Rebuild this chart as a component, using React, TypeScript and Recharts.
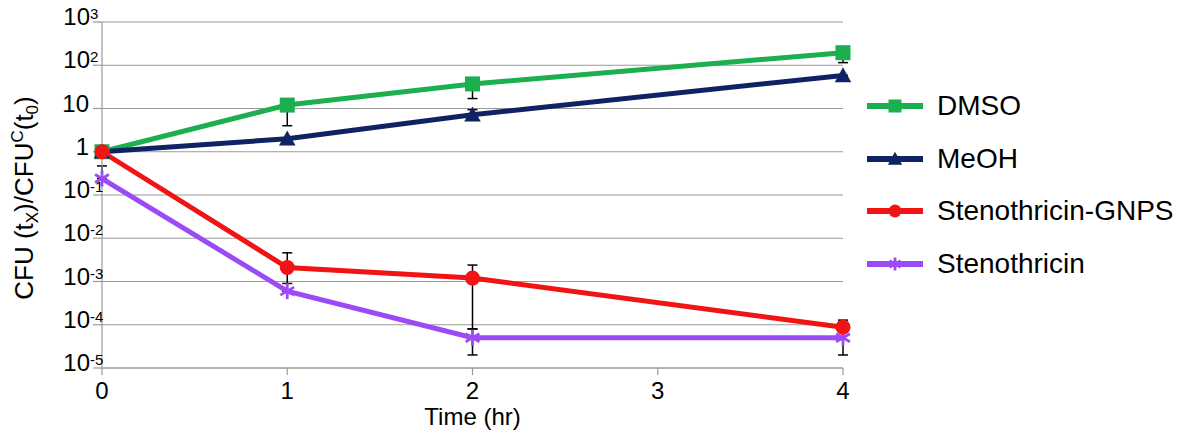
import React from 'react';
import { LineChart, Line, XAxis, YAxis, CartesianGrid, ErrorBar, Legend } from 'recharts';

// ---- data ----
const times = [0, 1, 2, 4];
const dmso = [1, 12, 37, 195];
const dmsoErr: [number, number][] = [[0, 0], [8, 0], [20, 0], [80, 0]];
const meoh = [1, 2.0, 7.2, 58];
const meohErr: [number, number][] = [[0, 0], [0, 0], [0, 2.2], [0, 0]];
const gnps = [1, 0.0021, 0.0012, 0.000088];
const gnpsErr: [number, number][] = [[0, 0], [0.0012, 0.0025], [0.00112, 0.0012], [0, 0.00004]];
const steno = [0.24, 0.0006, 0.00005, 0.00005];
const stenoErr: [number, number][] = [[0, 0.23], [0, 0], [0.00003, 0.00003], [0.00003, 0.00003]];

const xTicks = [0, 1, 2, 3, 4];
const yTicks = [1e-5, 1e-4, 1e-3, 1e-2, 1e-1, 1, 10, 100, 1000];
const yTickBase = ['10', '10', '10', '10', '10', '1', '10', '10', '10'];
const yTickExp = ['-5', '-4', '-3', '-2', '-1', '', '', '2', '3'];

const seriesNames = ['DMSO', 'MeOH', 'Stenothricin-GNPS', 'Stenothricin'];

const GREEN = '#1caf50';
const NAVY = '#0f2364';
const RED = '#f01414';
const PURPLE = '#9b4bf5';
const GRID = '#9a9a9a';
const FONT = '"Liberation Sans", Arial, sans-serif';

const data = times.map((t, i) => ({
  t,
  dmso: dmso[i],
  dmsoErr: dmsoErr[i],
  meoh: meoh[i],
  meohErr: meohErr[i],
  gnps: gnps[i],
  gnpsErr: gnpsErr[i],
  steno: steno[i],
  stenoErr: stenoErr[i],
}));

// ---- markers ----
const squareShape = (cx: number, cy: number, s: number, color: string, key?: string) => (
  <rect key={key} x={cx - s / 2} y={cy - s / 2} width={s} height={s} fill={color} />
);
const triangleShape = (cx: number, cy: number, s: number, color: string, key?: string) => (
  <polygon
    key={key}
    points={`${cx},${cy - s * 0.55} ${cx + s * 0.55},${cy + s * 0.45} ${cx - s * 0.55},${cy + s * 0.45}`}
    fill={color}
  />
);
const circleShape = (cx: number, cy: number, s: number, color: string, key?: string) => (
  <circle key={key} cx={cx} cy={cy} r={s / 2} fill={color} />
);
const starShape = (cx: number, cy: number, s: number, color: string, key?: string) => {
  const r = s / 2;
  const a = Math.cos(Math.PI / 6) * r;
  const b = Math.sin(Math.PI / 6) * r;
  return (
    <g key={key} stroke={color} strokeWidth={2.8}>
      <line x1={cx} y1={cy - r} x2={cx} y2={cy + r} />
      <line x1={cx - a} y1={cy - b} x2={cx + a} y2={cy + b} />
      <line x1={cx - a} y1={cy + b} x2={cx + a} y2={cy - b} />
    </g>
  );
};

const makeDot = (fn: typeof squareShape, size: number, color: string, name: string) => (props: any) => {
  const { cx, cy, index } = props;
  if (cx == null || cy == null || isNaN(cx) || isNaN(cy)) return <g key={`${name}-${index}`} />;
  return fn(cx, cy, size, color, `${name}-${index}`);
};

const seriesShapes = [squareShape, triangleShape, circleShape, starShape];
const seriesColors = [GREEN, NAVY, RED, PURPLE];

// ---- ticks & labels ----
const YTick = (props: any) => {
  const { y, index } = props;
  const base = yTickBase[index];
  const exp = yTickExp[index];
  if (exp) {
    return (
      <g>
        <text x={90} y={y + 3} textAnchor="end" fontSize={24} fill="#000" fontFamily={FONT}>
          {base}
        </text>
        <text x={90} y={y - 3} textAnchor="start" fontSize={15} fill="#000" fontFamily={FONT}>
          {exp}
        </text>
      </g>
    );
  }
  return (
    <text x={89} y={y + 3} textAnchor="end" fontSize={24} fill="#000" fontFamily={FONT}>
      {base}
    </text>
  );
};

const YLabel = (props: any) => {
  const vb = props.viewBox || { x: 0, y: 22, width: 102, height: 346 };
  const cy = vb.y + vb.height / 2 + 3;
  const cx = 33;
  return (
    <text
      transform={`translate(${cx},${cy}) rotate(-90)`}
      textAnchor="middle"
      fontSize={26}
      fill="#000"
      fontFamily={FONT}
    >
      <tspan>CFU (t</tspan>
      <tspan fontSize={17} dy={5}>X</tspan>
      <tspan dy={-5}>)/CFU</tspan>
      <tspan fontSize={17} dy={-10}>C</tspan>
      <tspan dy={10}>(t</tspan>
      <tspan fontSize={17} dy={5}>0</tspan>
      <tspan dy={-5}>)</tspan>
    </text>
  );
};

const XLabel = (props: any) => {
  const vb = props.viewBox || { x: 102, y: 368, width: 741, height: 66 };
  return (
    <text x={vb.x + vb.width / 2} y={vb.y + 57} textAnchor="middle" fontSize={24} fill="#000" fontFamily={FONT}>
      Time (hr)
    </text>
  );
};

const LegendContent = () => (
  <div style={{ fontFamily: FONT, fontSize: 28, color: '#000' }}>
    {seriesNames.map((name, i) => (
      <div key={name} style={{ display: 'flex', alignItems: 'center', height: 52.5 }}>
        <svg width={56} height={20} style={{ marginRight: 14, display: 'block' }}>
          <line x1={0} y1={10} x2={56} y2={10} stroke={seriesColors[i]} strokeWidth={6} />
          {seriesShapes[i](28, 10, 13, seriesColors[i])}
        </svg>
        <span style={{ lineHeight: 1, whiteSpace: 'nowrap' }}>{name}</span>
      </div>
    ))}
  </div>
);

export default function App() {
  return (
    <div style={{ position: 'absolute', left: 0, top: 0, width: 1199, height: 434, background: '#fff' }}>
      <LineChart
        width={1199}
        height={434}
        data={data}
        margin={{ top: 22, right: 356, bottom: 0, left: 0 }}
        style={{ fontFamily: FONT }}
      >
        <CartesianGrid vertical={false} stroke={GRID} strokeWidth={1.2} />
        <XAxis
          dataKey="t"
          type="number"
          domain={[0, 4]}
          ticks={xTicks}
          height={66}
          tickSize={7}
          tickMargin={7}
          axisLine={{ stroke: GRID, strokeWidth: 1.2 }}
          tickLine={{ stroke: GRID, strokeWidth: 1.2 }}
          tick={{ fill: '#000', fontSize: 24, fontFamily: FONT }}
          label={<XLabel />}
        />
        <YAxis
          type="number"
          scale="log"
          domain={[1e-5, 1000]}
          ticks={yTicks}
          allowDataOverflow
          width={102}
          tickSize={9}
          axisLine={{ stroke: GRID, strokeWidth: 1.2 }}
          tickLine={{ stroke: GRID, strokeWidth: 1.2 }}
          tick={<YTick />}
          label={<YLabel />}
        />
        <Legend
          layout="horizontal"
          verticalAlign="middle"
          align="center"
          content={() => <LegendContent />}
          wrapperStyle={{ left: 867, top: 80, width: 330 }}
        />
        <Line
          dataKey="dmso"
          name="DMSO"
          stroke={GREEN}
          strokeWidth={5}
          isAnimationActive={false}
          dot={makeDot(squareShape, 15, GREEN, 'dmso')}
          activeDot={false}
        >
          <ErrorBar dataKey="dmsoErr" direction="y" width={5} stroke="#000" strokeWidth={1.5} isAnimationActive={false} />
        </Line>
        <Line
          dataKey="meoh"
          name="MeOH"
          stroke={NAVY}
          strokeWidth={5}
          isAnimationActive={false}
          dot={makeDot(triangleShape, 15, NAVY, 'meoh')}
          activeDot={false}
        >
          <ErrorBar dataKey="meohErr" direction="y" width={5} stroke="#000" strokeWidth={1.5} isAnimationActive={false} />
        </Line>
        <Line
          dataKey="steno"
          name="Stenothricin"
          stroke={PURPLE}
          strokeWidth={5}
          isAnimationActive={false}
          dot={makeDot(starShape, 16, PURPLE, 'steno')}
          activeDot={false}
        >
          <ErrorBar dataKey="stenoErr" direction="y" width={5} stroke="#000" strokeWidth={1.5} isAnimationActive={false} />
        </Line>
        <Line
          dataKey="gnps"
          name="Stenothricin-GNPS"
          stroke={RED}
          strokeWidth={5}
          isAnimationActive={false}
          dot={makeDot(circleShape, 15, RED, 'gnps')}
          activeDot={false}
        >
          <ErrorBar dataKey="gnpsErr" direction="y" width={5} stroke="#000" strokeWidth={1.5} isAnimationActive={false} />
        </Line>
      </LineChart>
    </div>
  );
}
